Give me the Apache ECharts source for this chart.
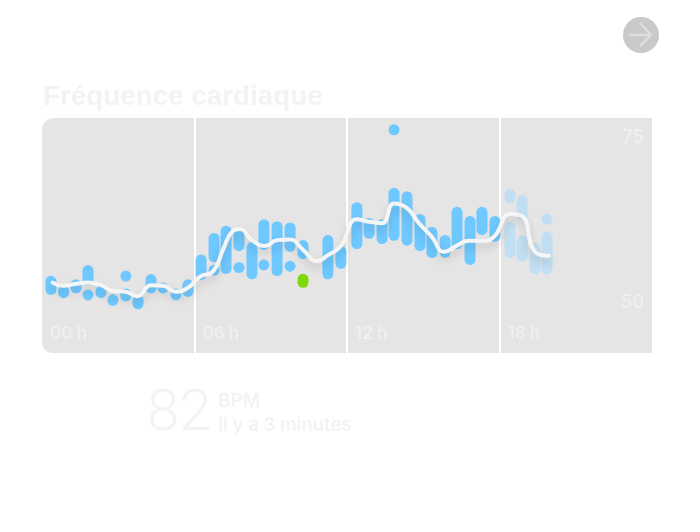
<!DOCTYPE html>
<html>
<head>
<meta charset="utf-8">
<style>html,body{margin:0;padding:0;background:#fff}#c{width:700px;height:532px}</style>
<script src="https://cdn.jsdelivr.net/npm/echarts@6/dist/echarts.min.js"></script>
</head>
<body>
<div id="c"></div>
<script>
const titleText = 'Fréquence cardiaque';
const bpmValue = '82';
const bpmUnit = 'BPM';
const bpmWhen = 'Il y a 3 minutes';
const hourTicks = [0, 6, 12, 18];
const bpmTicks = [50, 75];

const barHours = [0.35,0.85,1.34,1.81,2.32,2.79,3.30,3.78,4.29,4.76,5.27,5.74,6.26,6.77,7.24,7.75,8.26,8.73,9.25,9.76,10.27,11.25,11.76,12.39,12.87,13.38,13.85,14.36,14.87,15.34,15.86,16.33,16.84,17.31,17.82];
const barHigh = [54.08,52.66,53.55,55.73,52.56,51.27,52.16,51.17,54.34,53.05,52.16,53.55,57.31,60.57,61.66,61.17,59.19,62.65,62.35,62.15,59.48,60.27,58.59,65.22,62.85,62.65,67.4,66.9,63.44,61.51,60.27,64.53,63.14,64.53,63.14];
const barLow = [51.17,50.68,51.42,52.66,50.68,49.54,50.19,49,51.42,51.42,50.38,50.88,53.45,56.12,54.34,57.8,53.55,58,54.04,57.7,56.61,53.55,55.13,58.1,59.68,58.89,59.38,58.64,57.8,56.76,56.81,58.1,55.73,60.27,59.24];

const fadedHours = [18.41,18.41,18.89,18.89,19.40,19.87];
const fadedHigh = [67.22,62.25,66.31,60.18,59.09,60.77];
const fadedLow = [65.1,56.81,62.45,56.22,54.34,54.34];

const dotHours = [1.81,3.30,6.77,7.75,8.73,9.76,13.85];
const dotValues = [51.17,54.04,54.93,55.33,55.73,55.53,76.2];
const fadedDotHours = [19.87];
const fadedDotValues = [62.65];

const latestHours = [10.27];
const latestHigh = [54.39];
const latestLow = [52.26];

const trendHours = [0.42,0.83,1.34,1.81,2.32,2.79,3.30,3.74,4.29,4.76,5.27,5.74,6.22,6.73,7.12,7.48,7.79,8.26,8.77,9.25,9.76,10.27,10.82,11.25,11.76,12.39,12.87,13.38,13.85,14.36,14.83,15.34,15.82,16.33,16.8,17.31,17.78,18.41,18.89,19.4,19.95];
const trendValues = [53.05,52.56,52.86,53.05,52.66,51.77,51.67,50.98,52.66,52.56,51.67,52.26,53.95,54.74,58,60.77,61.17,59.48,58.59,59.48,59.58,58,56.32,57.21,58.59,62.65,62.25,62.05,65.02,64.33,62.05,59.98,57.7,58.69,59.38,59.38,59.98,63.44,63.14,57.7,57.11];

const FONT = 'Inter';
const SOFT = '#f2f3f4';
const chart = echarts.init(document.getElementById('c'), null, {renderer: 'canvas'});

function rangeItem(width) {
  return function (params, api) {
    const top = api.coord([api.value(0), api.value(1)]);
    const bottom = api.coord([api.value(0), api.value(2)]);
    return {
      type: 'rect',
      shape: {x: top[0] - width / 2, y: top[1], width: width, height: bottom[1] - top[1], r: width / 2},
      style: api.style()
    };
  };
}
function zip3(a, b, c) { return a.map((v, i) => [v, b[i], c[i]]); }
function zip2(a, b) { return a.map((v, i) => [v, b[i]]); }

chart.setOption({
  animation: false,
  backgroundColor: '#ffffff',
  title: {
    text: titleText, left: 43, top: 83, padding: 0,
    textStyle: {fontFamily: 'Liberation Sans', fontSize: 27.8, fontWeight: 700, color: SOFT}
  },
  graphic: [
    {type: 'rect', z: -1, shape: {x: 42, y: 118, width: 610, height: 235, r: [12, 0, 0, 10]}, style: {fill: '#e5e5e5'}},
    {type: 'circle', shape: {cx: 641, cy: 35, r: 18}, style: {fill: '#c9c9c9'}},
    {type: 'polyline', shape: {points: [[629, 35], [651, 35]]}, style: {stroke: '#dedede', lineWidth: 2.5, fill: null}},
    {type: 'polyline', shape: {points: [[640, 23], [651, 35], [640, 46]]}, style: {stroke: '#dedede', lineWidth: 2.5, fill: null}},
    {type: 'text', x: 147, y: 415, style: {text: bpmValue, fontFamily: 'Roboto', fontSize: 58, fontWeight: 300, fill: SOFT, verticalAlign: 'middle'}},
    {type: 'text', x: 218, y: 401, style: {text: bpmUnit, fontFamily: FONT, fontSize: 19, fontWeight: 600, fill: SOFT, verticalAlign: 'middle'}},
    {type: 'text', x: 218, y: 425, style: {text: bpmWhen, fontFamily: FONT, fontSize: 18.5, fontWeight: 600, fill: SOFT, verticalAlign: 'middle'}}
  ],
  grid: {left: 42, top: 118, width: 610, height: 235, show: false},
  xAxis: {
    type: 'value', min: 0, max: 24, interval: 6,
    axisLine: {show: false}, axisTick: {show: false},
    splitLine: {show: true, showMinLine: false, showMaxLine: false, lineStyle: {color: '#ffffff', width: 2}},
    axisLabel: {
      inside: true, margin: 11, align: 'left', padding: [0, 0, 0, 8],
      customValues: hourTicks,
      formatter: v => String(v).padStart(2, '0') + ' h',
      fontFamily: FONT, fontSize: 17, fontWeight: 600, color: '#efefef'
    }
  },
  yAxis: {
    type: 'value', min: 42.38, max: 77.98, position: 'right',
    axisLine: {show: false}, axisTick: {show: false}, splitLine: {show: false},
    axisLabel: {
      inside: true, margin: 8, customValues: bpmTicks,
      fontFamily: FONT, fontSize: 18, fontWeight: 600, color: '#efefef'
    }
  },
  series: [
    {type: 'custom', name: 'plage', renderItem: rangeItem(11), encode: {x: 0, y: [1, 2]}, itemStyle: {color: '#6fc8ff'}, data: zip3(barHours, barHigh, barLow), z: 3},
    {type: 'custom', name: 'plage récente', renderItem: rangeItem(11), encode: {x: 0, y: [1, 2]}, itemStyle: {color: '#c1dff2'}, data: zip3(fadedHours, fadedHigh, fadedLow), z: 3},
    {type: 'scatter', name: 'mesure', symbolSize: 11, itemStyle: {color: '#6fc8ff', opacity: 1}, data: zip2(dotHours, dotValues), z: 3},
    {type: 'scatter', name: 'mesure récente', symbolSize: 11, itemStyle: {color: '#c1dff2', opacity: 1}, data: zip2(fadedDotHours, fadedDotValues), z: 3},
    {type: 'custom', name: 'dernière', renderItem: rangeItem(11), encode: {x: 0, y: [1, 2]}, itemStyle: {color: '#7fd80a'}, data: zip3(latestHours, latestHigh, latestLow), z: 3},
    {
      type: 'line', name: 'tendance', smooth: 0.5, showSymbol: false, symbol: 'none', z: 4,
      lineStyle: {color: '#f5f5f5', width: 4, cap: 'round', shadowColor: 'rgba(0,0,0,0.16)', shadowBlur: 8, shadowOffsetY: 5},
      data: zip2(trendHours, trendValues)
    }
  ]
});
</script>
</body>
</html>
